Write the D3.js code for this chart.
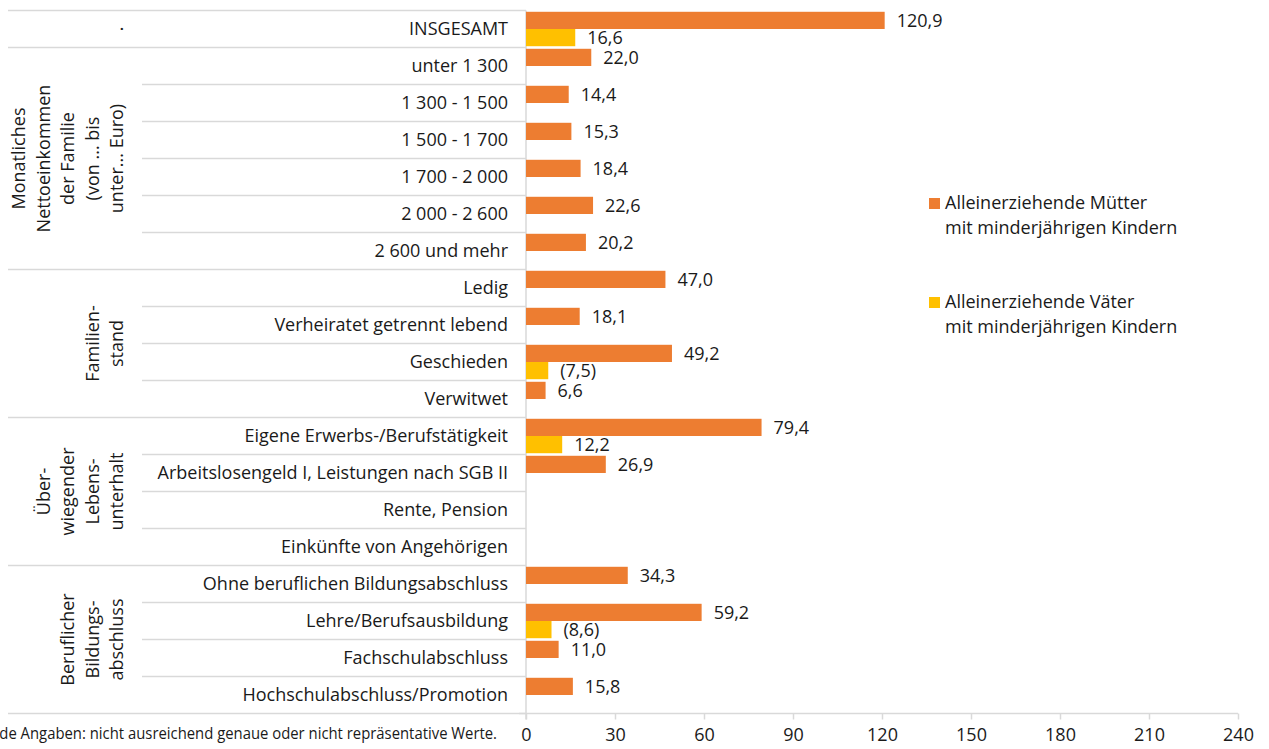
<!DOCTYPE html>
<html>
<head>
<meta charset="utf-8">
<script src="https://cdn.jsdelivr.net/npm/d3@7"></script>
<style>
  html, body { margin: 0; padding: 0; background: #fff; }
  svg { display: block; font-family: "Open Sans", "Noto Sans", sans-serif; }
</style>
</head>
<body>
<svg id="chart" width="1269" height="749"></svg>
<script>
// ---- data ----
const categories = [
  "INSGESAMT",
  "unter 1 300", "1 300 - 1 500", "1 500 - 1 700", "1 700 - 2 000", "2 000 - 2 600", "2 600 und mehr",
  "Ledig", "Verheiratet getrennt lebend", "Geschieden", "Verwitwet",
  "Eigene Erwerbs-/Berufstätigkeit", "Arbeitslosengeld I, Leistungen nach SGB II", "Rente, Pension", "Einkünfte von Angehörigen",
  "Ohne beruflichen Bildungsabschluss", "Lehre/Berufsausbildung", "Fachschulabschluss", "Hochschulabschluss/Promotion"
];
const muetter = [120.9, 22.0, 14.4, 15.3, 18.4, 22.6, 20.2, 47.0, 18.1, 49.2, 6.6, 79.4, 26.9, null, null, 34.3, 59.2, 11.0, 15.8];
const vaeter  = [16.6, null, null, null, null, null, null, null, null, 7.5, null, 12.2, null, null, null, null, 8.6, null, null];
const vaeterBracketed = [false, false, false, false, false, false, false, false, false, true, false, false, false, false, false, false, true, false, false];
const groupNames = [
  ["."],
  ["Monatliches", "Nettoeinkommen", "der Familie", "(von ... bis", "unter... Euro)"],
  ["Familien-", "stand"],
  ["Über-", "wiegender", "Lebens-", "unterhalt"],
  ["Beruflicher", "Bildungs-", "abschluss"]
];
const groupSizes = [1, 6, 4, 4, 4];
const xTicks = [0, 30, 60, 90, 120, 150, 180, 210, 240];
const seriesNames = [
  ["Alleinerziehende Mütter", "mit minderjährigen Kindern"],
  ["Alleinerziehende Väter", "mit minderjährigen Kindern"]
];
const colors = ["#ED7D31", "#FFC000"];
const footnotePrefix = "(  ) In Klammern stehende ";
const footnoteMain = "Angaben: nicht ausreichend genaue oder nicht repräsentative Werte.";

// ---- layout ----
const svg = d3.select("#chart");
const plotLeft = 526, plotRight = 1238, plotTop = 10.5, plotBottom = 713.5;
const gridColor = "#d9d9d9";
const textColor = "#1a1a1a";
const fs = 18;

const x = d3.scaleLinear().domain([0, 240]).range([plotLeft, plotRight]);
const y = d3.scaleBand().domain(d3.range(categories.length)).range([plotTop, plotBottom]).padding(0);
const ySub = d3.scaleBand().domain([0, 1]).range([0, y.bandwidth()]).paddingInner(0).paddingOuter(0.075);

const fmt = v => d3.format(".1f")(v).replace(".", ",");

// separators
const groupStarts = [];
let acc = 0;
groupSizes.forEach(s => { groupStarts.push(acc); acc += s; });
const g = svg.append("g");
for (let i = 0; i <= categories.length; i++) {
  const isGroupBoundary = (i === 0 || i === categories.length || groupStarts.includes(i));
  const yy = i === categories.length ? plotBottom : y(i);
  g.append("line")
    .attr("x1", isGroupBoundary ? 8 : 142).attr("x2", plotLeft)
    .attr("y1", yy).attr("y2", yy)
    .attr("stroke", gridColor).attr("stroke-width", 1.5);
}
// vertical axis line
g.append("line").attr("x1", plotLeft).attr("x2", plotLeft)
  .attr("y1", plotTop).attr("y2", plotBottom + 6)
  .attr("stroke", gridColor).attr("stroke-width", 1.5);

// x axis
const xAxis = d3.axisBottom(x).tickValues(xTicks).tickSize(6).tickPadding(9).tickFormat(d => d);
const ax = svg.append("g").attr("transform", `translate(0,${plotBottom})`).call(xAxis);
ax.select(".domain").attr("stroke", gridColor).attr("stroke-width", 1.5).attr("d", `M${plotLeft - 7},0H${plotRight}`);
ax.selectAll(".tick line").attr("stroke", gridColor).attr("stroke-width", 1.5);
ax.selectAll(".tick text").attr("fill", textColor).style("font-size", fs + "px").style("font-family", '"Open Sans", sans-serif');

// bars
const series = [muetter, vaeter];
series.forEach((vals, s) => {
  const data = vals.map((v, i) => ({ v, i })).filter(d => d.v !== null);
  svg.append("g").selectAll("rect").data(data).join("rect")
    .attr("x", x(0))
    .attr("y", d => y(d.i) + ySub(s))
    .attr("width", d => x(d.v) - x(0))
    .attr("height", ySub.bandwidth())
    .attr("fill", colors[s]);
  svg.append("g").selectAll("text").data(data).join("text")
    .attr("x", d => x(d.v) + 12)
    .attr("y", d => y(d.i) + ySub(s) + ySub.bandwidth() / 2)
    .attr("dy", "0.35em")
    .attr("fill", textColor)
    .style("font-size", fs + "px")
    .text(d => (s === 1 && vaeterBracketed[d.i]) ? "(" + fmt(d.v) + ")" : fmt(d.v));
});

// category labels
svg.append("g").selectAll("text").data(categories).join("text")
  .attr("x", 508)
  .attr("y", (d, i) => y(i) + y.bandwidth() / 2)
  .attr("dy", "0.35em")
  .attr("text-anchor", "end")
  .attr("fill", textColor)
  .style("font-size", fs + "px")
  .text(d => d);

// group labels (rotated)
groupNames.forEach((lines, gi) => {
  const start = groupStarts[gi], end = start + groupSizes[gi];
  const yc = (y(start) + (end === categories.length ? plotBottom : y(end))) / 2;
  const n = lines.length;
  lines.forEach((ln, k) => {
    const xc = 117 - 24.5 * (n - 1 - k);
    svg.append("text")
      .attr("transform", `translate(${xc},${yc}) rotate(-90)`)
      .attr("text-anchor", "middle")
      .attr("dy", "0.35em")
      .attr("fill", textColor)
      .style("font-size", fs + "px")
      .text(ln);
  });
});

// legend
const legY = [198, 297];
seriesNames.forEach((lines, s) => {
  svg.append("rect").attr("x", 929).attr("y", legY[s]).attr("width", 11).attr("height", 11).attr("fill", colors[s]);
  lines.forEach((ln, k) => {
    svg.append("text").attr("x", 945).attr("y", legY[s] + 10.5 + k * 25)
      .attr("fill", textColor).style("font-size", fs + "px").text(ln);
  });
});

// footnote (condensed, clipped at left edge)
const fnSize = 16.5;
const probe = svg.append("text").style("font-size", fnSize + "px").text(footnoteMain);
const w = probe.node().getComputedTextLength();
probe.remove();
const sx = 477 / w;
svg.append("text")
  .attr("text-anchor", "end")
  .attr("transform", `translate(497,739) scale(${sx},1)`)
  .attr("fill", textColor)
  .style("font-size", fnSize + "px")
  .text(footnotePrefix + footnoteMain);
</script>
</body>
</html>
